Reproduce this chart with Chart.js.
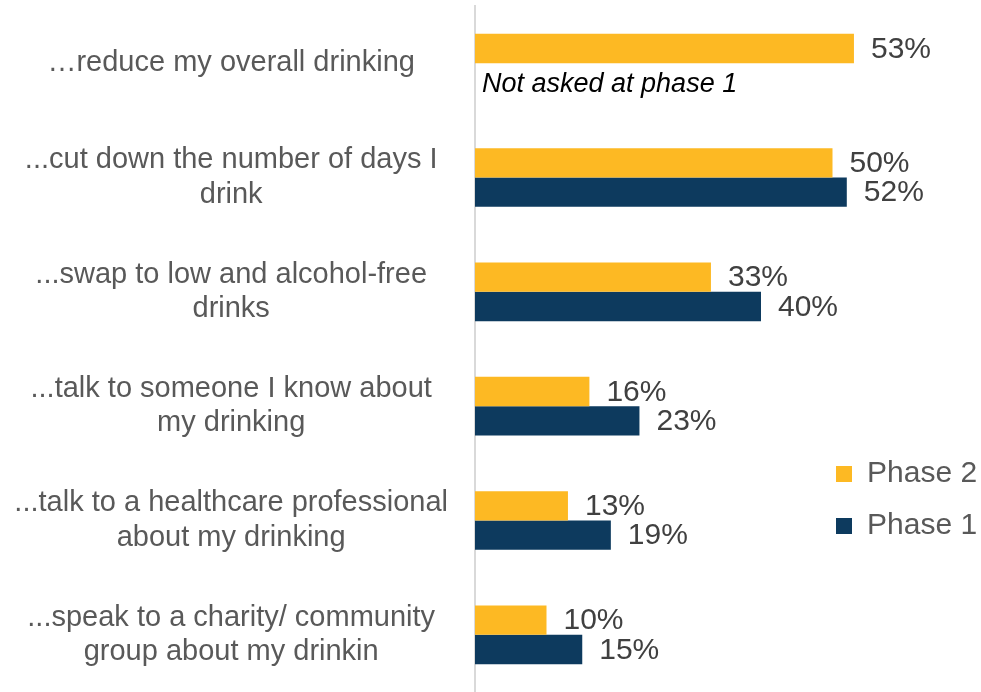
<!DOCTYPE html>
<html>
<head>
<meta charset="utf-8">
<script src="https://cdn.jsdelivr.net/npm/chart.js@4/dist/chart.umd.min.js"></script>
<style>
  html, body { margin: 0; padding: 0; background: #ffffff; }
  canvas { display: block; }
</style>
</head>
<body>
<canvas id="drinkingChart" width="981" height="692"></canvas>
<script>
// Categories (wrapped as in the original slide)
const categories = [
    '\u2026reduce my overall drinking',
    ['...cut down the number of days I', 'drink'],
    ['...swap to low and alcohol-free', 'drinks'],
    ['...talk to someone I know about', 'my drinking'],
    ['...talk to a healthcare professional', 'about my drinking'],
    ['...speak to a charity/ community', 'group about my drinkin']
];

// Percentages
const phase2Values = [53, 50, 33, 16, 13, 10];
const phase1Values = [null, 52, 40, 23, 19, 15];
const seriesNames = ['Phase 2', 'Phase 1'];
const notAskedNote = 'Not asked at phase 1';

const fontFamily = "'Liberation Sans', Arial, sans-serif";

// Value labels next to each bar, and the note where a value is missing
const barLabels = {
    id: 'barLabels',
    afterDatasetsDraw(chart) {
        const ctx = chart.ctx;
        ctx.save();
        ctx.textBaseline = 'middle';
        ctx.textAlign = 'left';
        chart.data.datasets.forEach((ds, i) => {
            const meta = chart.getDatasetMeta(i);
            meta.data.forEach((bar, j) => {
                const v = ds.data[j];
                if (v === null || v === undefined) {
                    ctx.font = 'italic 27px ' + fontFamily;
                    ctx.fillStyle = '#000000';
                    ctx.fillText(notAskedNote, chart.chartArea.left + 7, bar.y + 7);
                } else {
                    ctx.font = '30px ' + fontFamily;
                    ctx.fillStyle = '#404040';
                    ctx.fillText(v + '%', bar.x + 17, bar.y + 1);
                }
            });
        });
        ctx.restore();
    }
};

// Put the legend at the lower right, beside the bars
const legendPlacer = {
    id: 'legendPlacer',
    afterLayout(chart) {
        const lg = chart.legend;
        lg.left = 814;
        lg.right = 981;
        lg.top = 437;
        lg.bottom = 692;
    }
};

const ctx = document.getElementById('drinkingChart').getContext('2d');
const drinkingChart = new Chart(ctx, {
    type: 'bar',
    data: {
        labels: categories,
        datasets: [
            {
                label: seriesNames[0],
                data: phase2Values,
                backgroundColor: '#FDB923',
                borderWidth: 0,
                barPercentage: 1,
                categoryPercentage: 0.513
            },
            {
                label: seriesNames[1],
                data: phase1Values,
                backgroundColor: '#0D3A5E',
                borderWidth: 0,
                barPercentage: 1,
                categoryPercentage: 0.513
            }
        ]
    },
    options: {
        indexAxis: 'y',
        responsive: false,
        animation: false,
        layout: {
            padding: { top: 6, bottom: -4, left: 0, right: 77 }
        },
        plugins: {
            tooltip: { enabled: false },
            legend: {
                position: 'chartArea',
                align: 'start',
                labels: {
                    boxWidth: 16,
                    boxHeight: 16,
                    padding: 22,
                    color: '#595959',
                    font: { family: fontFamily, size: 30 }
                }
            }
        },
        scales: {
            x: {
                display: false,
                min: 0,
                max: 60
            },
            y: {
                afterFit: (scale) => {
                    scale.width = 475;
                    scale.paddingTop = 0;
                    scale.paddingBottom = 0;
                },
                grid: { display: false },
                border: { display: true, color: '#d9d9d9', width: 2 },
                ticks: {
                    autoSkip: false,
                    crossAlign: 'center',
                    padding: 19,
                    color: '#595959',
                    font: { family: fontFamily, size: 29, lineHeight: 1.18 }
                }
            }
        }
    },
    plugins: [barLabels, legendPlacer]
});
</script>
</body>
</html>
